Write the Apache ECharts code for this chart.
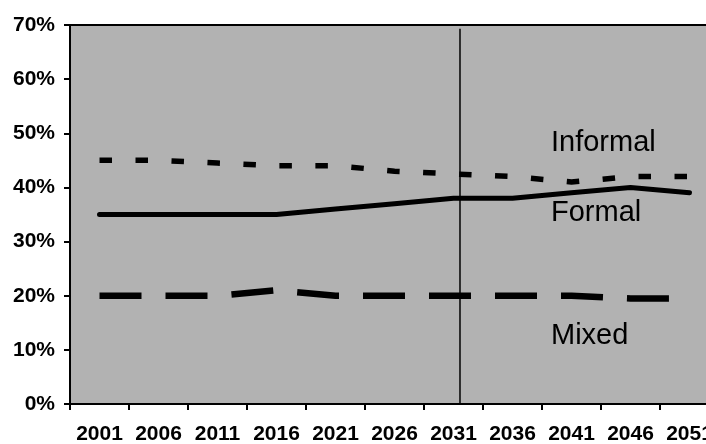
<!DOCTYPE html>
<html>
<head>
<meta charset="utf-8">
<script src="https://cdn.jsdelivr.net/npm/echarts@6/dist/echarts.min.js"></script>
<style>
  html, body { margin: 0; padding: 0; background: #fff; }
  #chart { width: 706px; height: 444px; }
</style>
</head>
<body>
<div id="chart"></div>
<script>
// data
var years = ["2001", "2006", "2011", "2016", "2021", "2026", "2031", "2036", "2041", "2046", "2051"];
var formal = [35, 35, 35, 35, 36, 37, 38, 38, 39, 40, 39];
var informal = [45, 45, 44.5, 44, 44, 43, 42.5, 42, 41, 42, 42];
var mixed = [20, 20, 20, 21, 20, 20, 20, 20, 20, 19.5, 19.5];
// vertical divider, in category-band units (0 = left edge of 2001)
var dividerAt = 6.61;
var dividerTop = 69.3;

var chart = echarts.init(document.getElementById("chart"));
var font = "Liberation Sans, Arial, sans-serif";

var option = {
  animation: false,
  grid: {
    left: 70,
    top: 25,
    width: 649, // plot runs past the right edge of the picture
    bottom: 40,
    outerBoundsMode: "none",
    containLabel: false,
    show: true,
    backgroundColor: "#b2b2b2",
    borderColor: "#000",
    borderWidth: 2
  },
  xAxis: [
    {
      type: "category",
      data: years,
      boundaryGap: true,
      axisLine: { lineStyle: { color: "#000", width: 2 } },
      axisTick: { show: true, length: 6, lineStyle: { color: "#000", width: 2 } },
      axisLabel: {
        interval: 0,
        margin: 20,
        color: "#000",
        fontSize: 21,
        fontWeight: "bold",
        fontFamily: font
      },
      splitLine: { show: false }
    },
    {
      // hidden helper axis for the divider line
      type: "value",
      min: 0,
      max: years.length,
      show: false
    }
  ],
  yAxis: {
    type: "value",
    min: 0,
    max: 70,
    interval: 10,
    axisLine: { show: true, lineStyle: { color: "#000", width: 2 } },
    axisTick: { show: true, length: 6, lineStyle: { color: "#000", width: 2 } },
    axisLabel: {
      formatter: "{value}%",
      margin: 15,
      color: "#000",
      fontSize: 21,
      fontWeight: "bold",
      fontFamily: font
    },
    splitLine: { show: false }
  },
  series: [
    {
      name: "Informal",
      type: "line",
      data: informal,
      symbol: "none",
      lineStyle: { color: "#000", width: 5.5, type: [12.5, 23.5], cap: "butt" }
    },
    {
      name: "Formal",
      type: "line",
      data: formal,
      symbol: "none",
      lineStyle: { color: "#000", width: 5, cap: "round", join: "round" }
    },
    {
      name: "Mixed",
      type: "line",
      data: mixed,
      symbol: "none",
      lineStyle: { color: "#000", width: 6.5, type: [42, 24], cap: "butt" }
    },
    {
      name: "divider",
      type: "line",
      xAxisIndex: 1,
      data: [[dividerAt, 0], [dividerAt, dividerTop]],
      symbol: "none",
      lineStyle: { color: "#000", width: 1.5 },
      z: 1
    }
  ],
  graphic: [
    {
      type: "text",
      left: 551,
      top: 128,
      style: { text: "Informal", fill: "#000", font: "29px " + font }
    },
    {
      type: "text",
      left: 551,
      top: 198,
      style: { text: "Formal", fill: "#000", font: "29px " + font }
    },
    {
      type: "text",
      left: 551,
      top: 321,
      style: { text: "Mixed", fill: "#000", font: "29px " + font }
    }
  ]
};

chart.setOption(option);
</script>
</body>
</html>
